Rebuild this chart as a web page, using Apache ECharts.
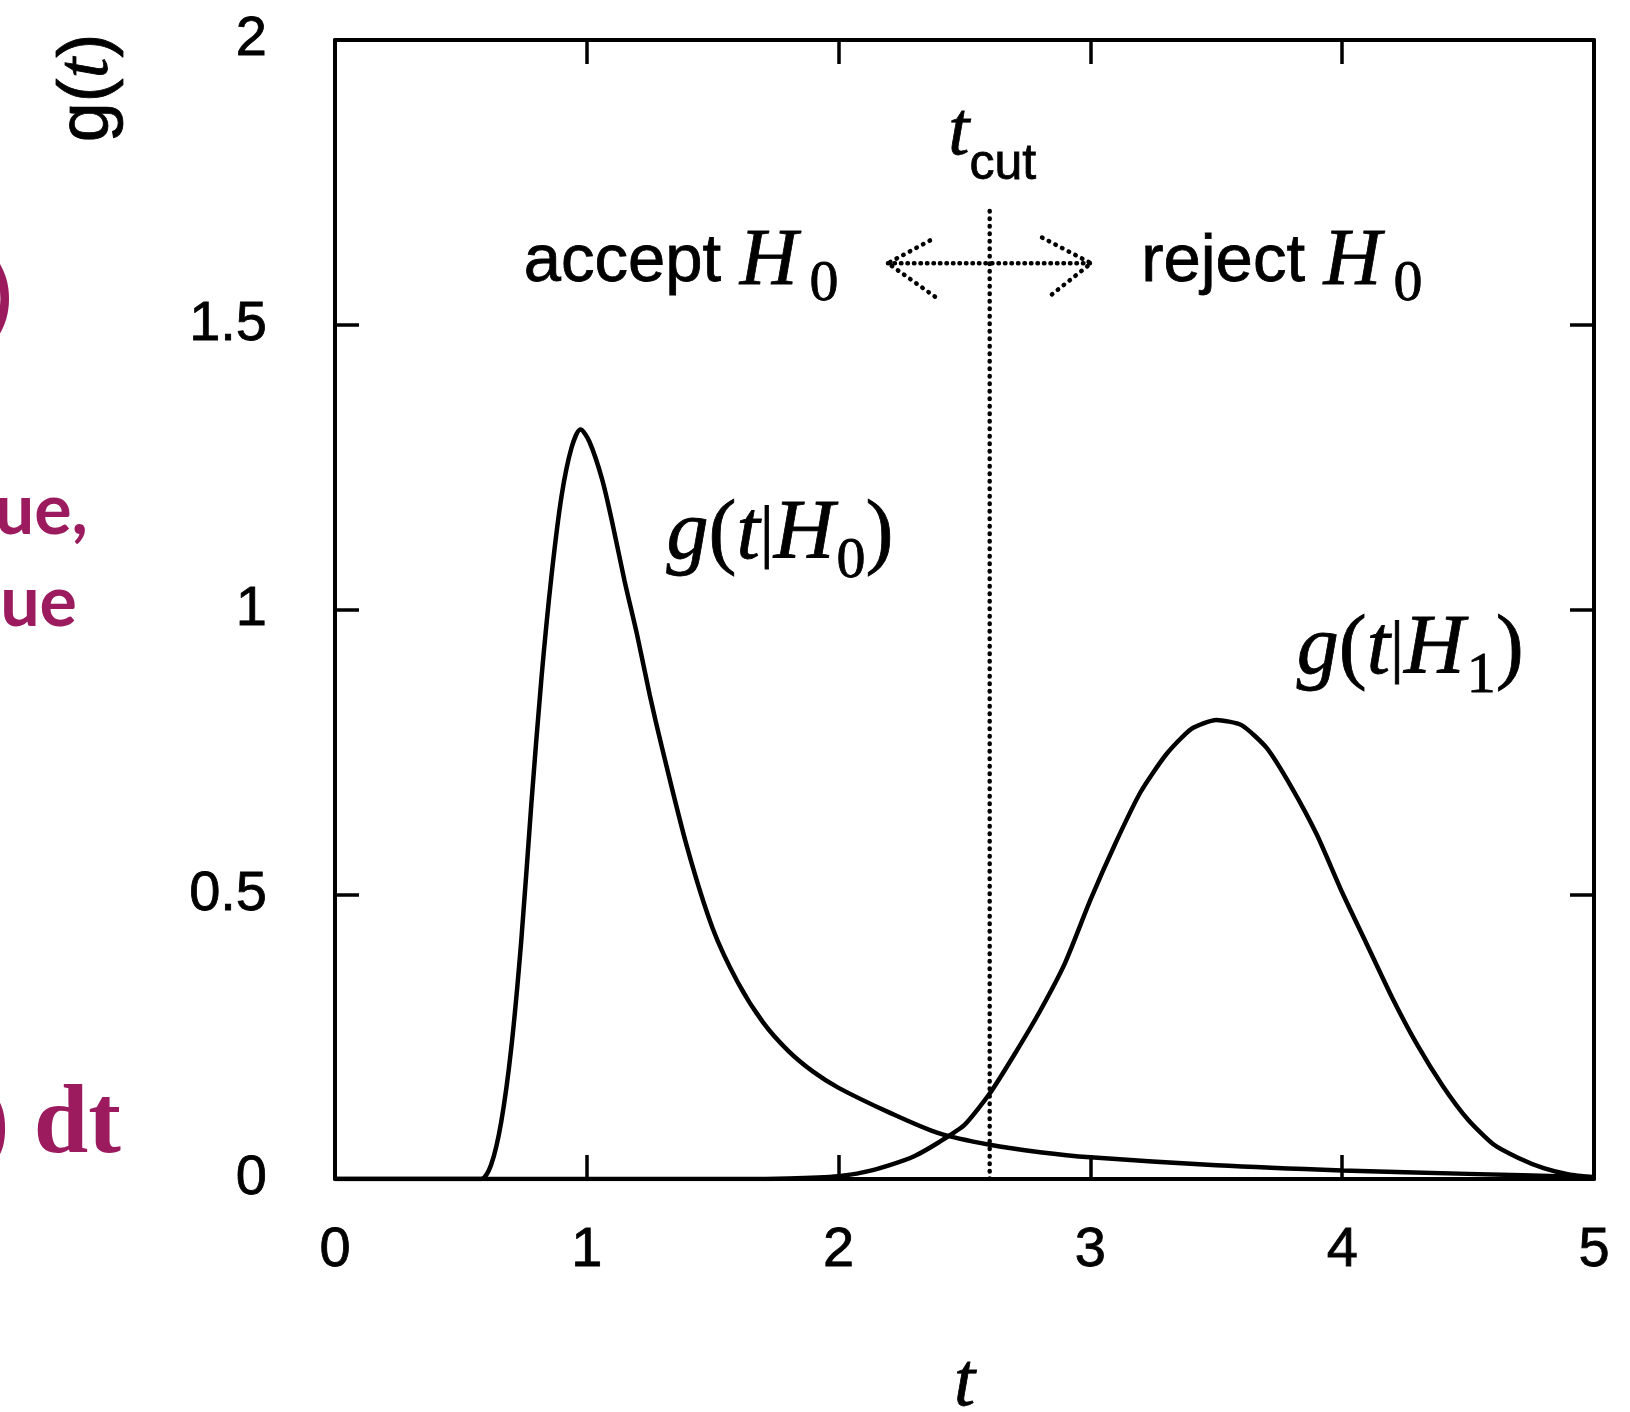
<!DOCTYPE html>
<html><head><meta charset="utf-8">
<script src="https://cdn.jsdelivr.net/npm/echarts@6/dist/echarts.min.js"></script>
<style>html,body{margin:0;padding:0;background:#fff}#c{width:1630px;height:1412px}</style>
</head><body><div id="c"></div>
<script>
// ---- data ----
const xMin = 0, xMax = 5, xStep = 1;
const yMin = 0, yMax = 2, yStep = 0.5;

const tH0 = [0, 0.5, 0.58, 0.62, 0.66, 0.7, 0.74, 0.78, 0.82, 0.86, 0.9, 0.94, 0.975, 1.01, 1.06, 1.1, 1.15, 1.2, 1.25, 1.3, 1.4, 1.5, 1.6, 1.7, 1.8, 1.9, 2.0, 2.2, 2.4, 2.6, 2.8, 3.0, 3.5, 4.0, 4.5, 5.0];
const gH0 = [0, 0, 0, 0.025, 0.1, 0.23, 0.42, 0.66, 0.88, 1.06, 1.2, 1.285, 1.316, 1.295, 1.23, 1.155, 1.05, 0.955, 0.85, 0.755, 0.58, 0.44, 0.345, 0.275, 0.225, 0.188, 0.16, 0.117, 0.08, 0.06, 0.047, 0.038, 0.024, 0.015, 0.009, 0.003];

const tH1 = [0, 1.6, 1.8, 2.0, 2.1, 2.2, 2.3, 2.4, 2.5, 2.6, 2.7, 2.8, 2.9, 3.0, 3.1, 3.2, 3.3, 3.4, 3.5, 3.6, 3.7, 3.8, 3.9, 4.0, 4.1, 4.2, 4.3, 4.4, 4.5, 4.6, 4.7, 4.8, 4.9, 5.0];
const gH1 = [0, 0, 0.001, 0.005, 0.012, 0.024, 0.04, 0.065, 0.095, 0.15, 0.22, 0.295, 0.38, 0.49, 0.59, 0.68, 0.745, 0.79, 0.806, 0.797, 0.757, 0.687, 0.604, 0.503, 0.41, 0.317, 0.234, 0.163, 0.104, 0.061, 0.037, 0.019, 0.008, 0.003];

const tCut = 2.6;
const cutLineY = [0, 1.704];
const arrowY = 1.608;
const arrowX = [2.196, 3.003];
const arrowHeadLeft = [[2.363, 1.648], [2.196, 1.608], [2.387, 1.548]];
const arrowHeadRight = [[2.808, 1.653], [3.003, 1.608], [2.832, 1.548]];

const annotations = [
  { pos: [1.375, 1.609], text: '{s|accept }{h|H}{sub|0}' },
  { pos: [3.76, 1.609], text: '{s|reject }{h|H}{sub|0}' },
  { pos: [2.61, 1.835], text: '{tt|t}{cut|cut}' },
  { pos: [1.767, 1.13], text: '{gi|g}{gp|(}{gi|t}{bar||}{gi|H}{gsub|0}{gp|)}' },
  { pos: [4.27, 0.928], text: '{gi|g}{gp|(}{gi|t}{bar||}{gi|H}{gsub|1}{gp|)}' }
];

const xName = 't';
const yName = '{a|g(}{b|t}{a|)}';
const sideTexts = [')', 'value,', 'value', ') dt'];

// ---- chart ----
const zip = (a, b) => a.map((v, i) => [v, b[i]]);
const SERIF = '"Liberation Serif", "DejaVu Serif", serif';
const SANS = '"Liberation Sans", Arial, sans-serif';
const PURPLE = '#9b1b5e';
const INK = { color: '#000', textBorderColor: '#000', textBorderWidth: 0.8, opacity: 1 };

const baseAxis = {
  axisLine: { show: true, onZero: false, lineStyle: { color: '#000', width: 4 } },
  axisTick: { show: true, inside: true, length: 24, lineStyle: { color: '#000', width: 3.5 } },
  splitLine: { show: false }
};

const dotted = { color: '#000', width: 4.5, type: [0.5, 7], cap: 'round' };

const chart = echarts.init(document.getElementById('c'), null, { renderer: 'canvas' });
chart.setOption({
  backgroundColor: '#fff',
  animation: false,
  grid: { left: 335, right: 36, top: 40, bottom: 233, containLabel: false, outerBoundsMode: 'none' },
  xAxis: [
    Object.assign({}, baseAxis, {
      type: 'value', min: xMin, max: xMax, interval: xStep, position: 'bottom',
      name: xName, nameLocation: 'middle', nameGap: 168,
      nameTextStyle: Object.assign({ fontFamily: SERIF, fontStyle: 'italic', fontSize: 76 }, INK),
      axisLabel: Object.assign({ show: true, margin: 44, fontFamily: SANS, fontSize: 56 }, INK)
    }),
    Object.assign({}, baseAxis, {
      type: 'value', min: xMin, max: xMax, interval: xStep, position: 'top',
      axisLabel: { show: false }
    })
  ],
  yAxis: [
    Object.assign({}, baseAxis, {
      type: 'value', min: yMin, max: yMax, interval: yStep, position: 'left',
      axisLabel: Object.assign({ show: true, margin: 68, fontFamily: SANS, fontSize: 56 }, INK)
    }),
    Object.assign({}, baseAxis, {
      type: 'value', min: yMin, max: yMax, interval: yStep, position: 'right',
      axisLabel: { show: false }
    })
  ],
  graphic: [
    { type: 'text', x: 88, y: 88, rotation: Math.PI / 2, style: {
        text: yName, align: 'center', verticalAlign: 'middle',
        rich: { a: { fontFamily: SANS, fontSize: 72, fill: '#000', stroke: '#000', lineWidth: 0.8 },
                b: { fontFamily: SERIF, fontStyle: 'italic', fontSize: 74, fill: '#000', stroke: '#000', lineWidth: 0.8 } } } },
    { type: 'text', x: 12, y: 298, style: { text: sideTexts[0], align: 'right', verticalAlign: 'middle', fontFamily: 'Lato, "Open Sans", sans-serif', fontWeight: 'bold', fontSize: 80, fill: PURPLE } },
    { type: 'text', x: 88, y: 511, style: { text: sideTexts[1], align: 'right', verticalAlign: 'middle', fontFamily: 'Lato, "Open Sans", sans-serif', fontWeight: 'bold', fontSize: 70, fill: PURPLE } },
    { type: 'text', x: 77, y: 603, style: { text: sideTexts[2], align: 'right', verticalAlign: 'middle', fontFamily: 'Lato, "Open Sans", sans-serif', fontWeight: 'bold', fontSize: 70, fill: PURPLE } },
    { type: 'text', x: 121, y: 1127, style: { text: sideTexts[3], align: 'right', verticalAlign: 'middle', fontFamily: SERIF, fontWeight: 'bold', fontSize: 98, fill: PURPLE } }
  ],
  series: [
    { type: 'line', name: 'tcut', data: [[tCut, cutLineY[0]], [tCut, cutLineY[1]]], showSymbol: false, lineStyle: dotted, z: 1, silent: true },
    { type: 'line', name: 'arrowShaft', data: [[arrowX[0], arrowY], [arrowX[1], arrowY]], showSymbol: false, lineStyle: Object.assign({}, dotted, { type: [0.5, 6] }), z: 1, silent: true },
    { type: 'line', name: 'arrowL', data: arrowHeadLeft, showSymbol: false, lineStyle: dotted, z: 1, silent: true },
    { type: 'line', name: 'arrowR', data: arrowHeadRight, showSymbol: false, lineStyle: dotted, z: 1, silent: true },
    { type: 'line', name: 'g(t|H0)', data: zip(tH0, gH0), showSymbol: false, smooth: 0.3,
      lineStyle: { color: '#000', width: 4.5 }, z: 3, silent: true },
    { type: 'line', name: 'g(t|H1)', data: zip(tH1, gH1), showSymbol: false, smooth: 0.2,
      lineStyle: { color: '#000', width: 4.5 }, z: 3, silent: true },
    { type: 'scatter', name: 'labels', symbolSize: 0, silent: true, z: 5,
      itemStyle: { opacity: 1, color: '#000' },
      data: annotations.map(a => ({ value: a.pos, label: { formatter: a.text } })),
      label: { show: true, position: 'inside', align: 'center', verticalAlign: 'middle', color: '#000', opacity: 1,
        textBorderWidth: 0, textShadowBlur: 0,
        rich: {
          s: Object.assign({ fontFamily: SANS, fontSize: 67, lineHeight: 80 }, INK),
          h: Object.assign({ fontFamily: SERIF, fontStyle: 'italic', fontSize: 80, lineHeight: 80 }, INK),
          sub: Object.assign({ fontFamily: SERIF, fontSize: 58, lineHeight: 60, verticalAlign: 'top', padding: [33, 0, 0, 12] }, INK),
          tt: Object.assign({ fontFamily: SERIF, fontStyle: 'italic', fontSize: 76, lineHeight: 76 }, INK),
          cut: Object.assign({ fontFamily: SANS, fontSize: 50, lineHeight: 50, verticalAlign: 'top', padding: [44, 0, 0, 0] }, INK),
          gi: Object.assign({ fontFamily: SERIF, fontStyle: 'italic', fontSize: 84, lineHeight: 86 }, INK),
          gp: Object.assign({ fontFamily: SERIF, fontSize: 84, lineHeight: 86 }, INK),
          bar: Object.assign({ fontFamily: SERIF, fontSize: 70, lineHeight: 86 }, INK),
          gsub: Object.assign({ fontFamily: SERIF, fontSize: 58, lineHeight: 60, verticalAlign: 'top', padding: [40, 0, 0, 2] }, INK)
        } } }
  ]
});
</script></body></html>
